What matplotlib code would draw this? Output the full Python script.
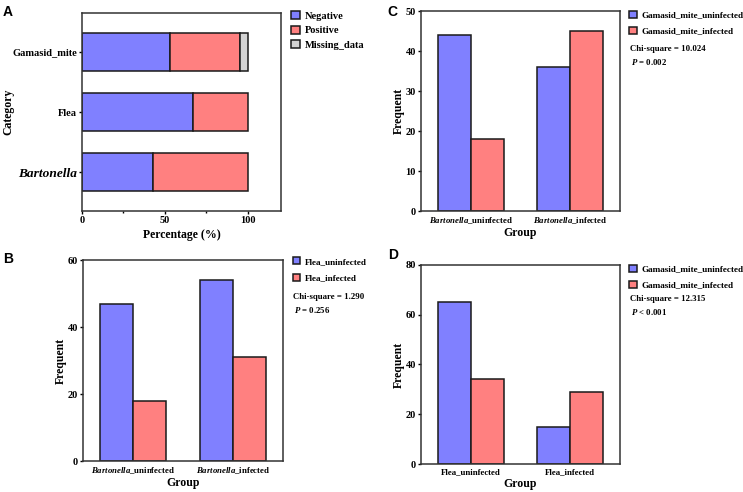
import numpy as np
import matplotlib
matplotlib.use("Agg")
import matplotlib.pyplot as plt

plt.rcParams['font.family'] = 'Liberation Serif'
plt.rcParams['font.weight'] = 'bold'
plt.rcParams['axes.labelweight'] = 'bold'
plt.rcParams['mathtext.fontset'] = 'custom'
plt.rcParams['mathtext.rm'] = 'Liberation Serif:bold'
plt.rcParams['mathtext.it'] = 'Liberation Serif:italic:bold'
plt.rcParams['mathtext.bf'] = 'Liberation Serif:bold'

BLUE = '#8080ff'
RED = '#ff8080'
GREY = '#d3d3d3'
EDGE = '#1a1a1a'
SPINE = '#333333'

# Panel A: percentages
cat_a = ["Bartonella", "Flea", "Gamasid_mite"]
neg_a = [43, 67, 53]
pos_a = [57, 33, 42]
miss_a = [0, 0, 5]

# Panel B
groups_b = [r"$\it{Bartonella}$_uninfected", r"$\it{Bartonella}$_infected"]
flea_uninf = [47, 54]
flea_inf = [18, 31]

# Panel C
groups_c = [r"$\it{Bartonella}$_uninfected", r"$\it{Bartonella}$_infected"]
mite_uninf_c = [44, 36]
mite_inf_c = [18, 45]

# Panel D
groups_d = ["Flea_uninfected", "Flea_infected"]
mite_uninf_d = [65, 15]
mite_inf_d = [34, 29]

fig = plt.figure(figsize=(7.43, 4.92), dpi=100)

axA = fig.add_axes([0.1104, 0.5711, 0.2678, 0.4024])
axC = fig.add_axes([0.5666, 0.5711, 0.2678, 0.4065])
axB = fig.add_axes([0.1117, 0.0630, 0.2692, 0.4085])
axD = fig.add_axes([0.5666, 0.0569, 0.2678, 0.4045])


def style(ax):
    for s in ax.spines.values():
        s.set_color(SPINE)
        s.set_linewidth(1.1)
    ax.tick_params(axis='both', which='major', length=2.5, width=1, direction='out',
                   labelsize=7.5, pad=1.2)
    ax.tick_params(axis='both', which='minor', length=1.5, width=1, direction='out')


# ---- Panel A
y = np.arange(len(cat_a))
h = 0.63
left = np.zeros(len(cat_a))
axA.barh(y, neg_a, height=h, left=left, color=BLUE, edgecolor=EDGE, lw=1.1, label='Negative')
left = left + np.array(neg_a)
axA.barh(y, pos_a, height=h, left=left, color=RED, edgecolor=EDGE, lw=1.1, label='Positive')
left = left + np.array(pos_a)
msk = np.array(miss_a) > 0
axA.barh(y[msk], np.array(miss_a)[msk], height=h, left=left[msk], color=GREY, edgecolor=EDGE,
         lw=1.1, label='Missing_data')
axA.set_xlim(0, 120)
axA.set_ylim(-0.65, 2.65)
axA.set_xticks([0, 50, 100])
axA.set_xticks([25, 75], minor=True)
axA.set_yticks(y)
axA.set_yticklabels(cat_a)
style(axA)
lab = axA.get_yticklabels()[0]
lab.set_fontstyle('italic')
lab.set_fontsize(9.6)
axA.set_xlabel("Percentage (%)", fontsize=8.5, labelpad=3)
axA.set_ylabel("Category", fontsize=8.5)
axA.yaxis.set_label_coords(-0.34, 0.5)
axA.legend(loc='upper left', bbox_to_anchor=(1.02, 1.04), frameon=False, fontsize=7.5,
           handlelength=0.8, handleheight=0.8, handletextpad=0.5, labelspacing=0.45,
           borderaxespad=0.2)


def group_bars(ax, groups, a, b, la, lb, ymax, step, chi, ptxt, leg_y, chi_y):
    x = np.arange(len(groups))
    w = 0.33
    ax.bar(x - w / 2, a, width=w, color=BLUE, edgecolor=EDGE, lw=1.1, label=la)
    ax.bar(x + w / 2, b, width=w, color=RED, edgecolor=EDGE, lw=1.1, label=lb)
    ax.set_xlim(-0.5, 1.5)
    ax.set_ylim(0, ymax)
    ax.set_yticks(np.arange(0, ymax + 1, step))
    ax.set_xticks(x)
    ax.set_xticklabels(groups)
    style(ax)
    ax.tick_params(axis='x', labelsize=6.3, length=0, pad=3)
    ax.set_xlabel("Group", fontsize=8.5, labelpad=1)
    ax.set_ylabel("Frequent", fontsize=8.5)
    ax.yaxis.set_label_coords(-0.08, 0.5)
    ax.legend(loc='upper left', bbox_to_anchor=(1.02, leg_y), frameon=False, fontsize=6.6,
              handlelength=0.8, handleheight=0.8, handletextpad=0.5, labelspacing=0.85,
              borderaxespad=0.2)
    ax.text(1.05, chi_y, chi, transform=ax.transAxes, fontsize=6.3, va='center', ha='left')
    ax.text(1.055, chi_y - 0.065, ptxt, transform=ax.transAxes, fontsize=6.3, va='center',
            ha='left')


group_bars(axB, groups_b, flea_uninf, flea_inf, "Flea_uninfected", "Flea_infected",
           60, 20, "Chi-square = 1.290", r"$\it{P}$ = 0.256", 1.04, 0.815)
group_bars(axC, groups_c, mite_uninf_c, mite_inf_c, "Gamasid_mite_uninfected",
           "Gamasid_mite_infected", 50, 10, "Chi-square = 10.024", r"$\it{P}$ = 0.002",
           1.03, 0.81)
group_bars(axD, groups_d, mite_uninf_d, mite_inf_d, "Gamasid_mite_uninfected",
           "Gamasid_mite_infected", 80, 20, "Chi-square = 12.315", r"$\it{P}$ < 0.001",
           1.03, 0.83)

for txt, xx, yy in [("A", 0.004, 0.99), ("B", 0.004, 0.487), ("C", 0.522, 0.99), ("D", 0.522, 0.495)]:
    fig.text(xx, yy, txt, fontsize=10, fontweight='bold', family='Liberation Sans', va='top', ha='left')

fig.savefig("out.png", dpi=100)
